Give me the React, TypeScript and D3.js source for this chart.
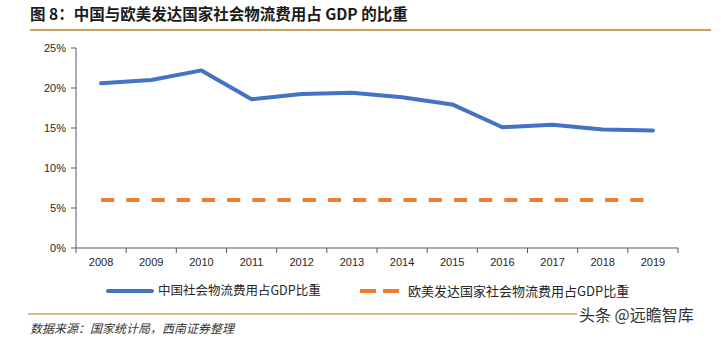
import React from "react";
import * as d3 from "d3";

const years = ["2008","2009","2010","2011","2012","2013","2014","2015","2016","2017","2018","2019"];
const chinaShare = [20.6, 21.0, 22.2, 18.6, 19.25, 19.4, 18.85, 17.95, 15.1, 15.4, 14.8, 14.7];
const westShare = [6, 6, 6, 6, 6, 6, 6, 6, 6, 6, 6, 6];
const yTicks = [0, 5, 10, 15, 20, 25];
const seriesNames = ["中国社会物流费用占GDP比重", "欧美发达国家社会物流费用占GDP比重"];

const W = 721, H = 339;
const plot = { left: 76, right: 678, top: 48, bottom: 248 };

export default function App() {
  const x = d3.scaleBand<string>().domain(years).range([plot.left, plot.right]);
  const y = d3.scaleLinear().domain([0, 25]).range([plot.bottom, plot.top]);
  const cx = (d: string) => (x(d) ?? 0) + x.bandwidth() / 2;
  const line = d3.line<number>().x((_, i) => cx(years[i])).y(v => y(v));
  const cjk = "'Noto Sans CJK SC', sans-serif";
  const lat = "'Liberation Sans', Arial, sans-serif";
  const bounds = [...years.map(d => x(d) ?? 0), plot.right];

  return (
    <svg width={W} height={H} style={{ position: "absolute", left: 0, top: 0, background: "#fff" }}>
      <rect width={W} height={H} fill="#fff" />
      <text x={30} y={20} fontFamily={cjk} fontWeight="bold" fontSize={15.5} fill="#1a1a1a">
        图 8：中国与欧美发达国家社会物流费用占 GDP 的比重
      </text>
      <line x1={30} x2={711} y1={30} y2={30} stroke="#C9A461" strokeWidth={2} />

      {/* y axis */}
      <line x1={plot.left} x2={plot.left} y1={plot.top} y2={plot.bottom} stroke="#595959" strokeWidth={1} />
      {yTicks.map(t => (
        <g key={t}>
          <line x1={plot.left - 5} x2={plot.left} y1={y(t)} y2={y(t)} stroke="#595959" />
          <text x={66} y={y(t)} dy="0.35em" textAnchor="end" fontFamily={lat} fontSize={11} fill="#262626">{t}%</text>
        </g>
      ))}
      {/* x axis */}
      <line x1={plot.left} x2={plot.right} y1={plot.bottom} y2={plot.bottom} stroke="#595959" />
      {bounds.map((b, i) => (
        <line key={i} x1={b} x2={b} y1={plot.bottom} y2={plot.bottom + 5} stroke="#595959" />
      ))}
      {years.map(d => (
        <text key={d} x={cx(d)} y={266} textAnchor="middle" fontFamily={lat} fontSize={11} fill="#262626">{d}</text>
      ))}

      <path d={line(westShare) ?? ""} fill="none" stroke="#ED7D31" strokeWidth={4} strokeDasharray="13.2 12" />
      <path d={line(chinaShare) ?? ""} fill="none" stroke="#4472C4" strokeWidth={4} strokeLinejoin="round" strokeLinecap="round" />

      {/* legend */}
      <line x1={108} x2={152} y1={291} y2={291} stroke="#4472C4" strokeWidth={4} strokeLinecap="round" />
      <text x={158} y={291} dy="0.35em" fontFamily={cjk} fontSize={12.5} fill="#262626">{seriesNames[0]}</text>
      <line x1={360} x2={400} y1={291} y2={291} stroke="#ED7D31" strokeWidth={4} strokeDasharray="16 7" />
      <text x={408} y={291} dy="0.35em" fontFamily={cjk} fontSize={13} fill="#262626">{seriesNames[1]}</text>

      {/* footer */}
      <line x1={28} x2={577} y1={314} y2={314} stroke="#C9A461" strokeWidth={1.5} />
      <text x={30} y={333} fontFamily={cjk} fontSize={12} fontStyle="italic" fill="#333">数据来源：国家统计局，西南证券整理</text>
      <text x={579} y={321} fontFamily={cjk} fontSize={16} fill="#333">头条 @远瞻智库</text>
    </svg>
  );
}
